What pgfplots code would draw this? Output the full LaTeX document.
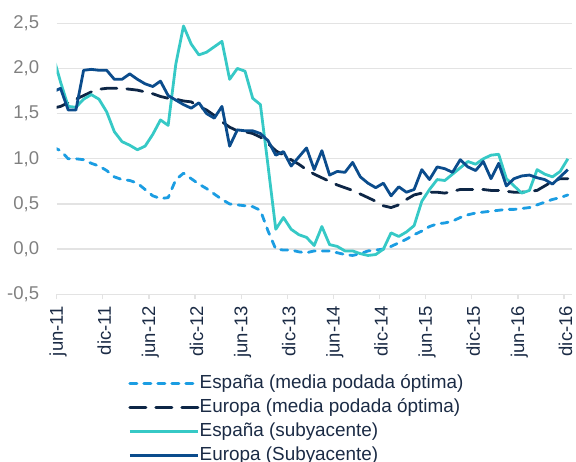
\documentclass[border=0pt]{standalone}
\usepackage{fontspec}
\setmainfont{Liberation Sans}
\usepackage{pgfplots}
\usepackage{pgfplotstable}
\pgfplotsset{compat=1.18}
\definecolor{cEsM}{HTML}{1B9DE2}
\definecolor{cEuM}{HTML}{0D2646}
\definecolor{cEsS}{HTML}{36C9C6}
\definecolor{cEuS}{HTML}{0B4C8C}
\definecolor{cGrid}{HTML}{E3E3E3}
\definecolor{cYLab}{HTML}{808080}
\definecolor{cXLab}{HTML}{1B2B45}

% x = month index (0 = jun-11), points at mid-month
\pgfplotstableread{
x     esm    eum   ess    eus
-0.5  1.13   1.56  2.15   1.74
0.5   1.09   1.58  1.85   1.78
1.5   1.00   1.62  1.58   1.54
2.5   1.00   1.66  1.57   1.54
3.5   0.99   1.70  1.66   1.98
4.5   0.95   1.74  1.71   1.99
5.5   0.92   1.77  1.66   1.98
6.5   0.87   1.78  1.52   1.98
7.5   0.80   1.78  1.30   1.88
8.5   0.77   1.78  1.19   1.88
9.5   0.76   1.77  1.15   1.94
10.5  0.73   1.76  1.10   1.88
11.5  0.66   1.74  1.14   1.83
12.5  0.59   1.72  1.27   1.80
13.5  0.56   1.69  1.43   1.86
14.5  0.57   1.67  1.37   1.70
15.5  0.77   1.66  2.05   1.65
16.5  0.84   1.64  2.47   1.60
17.5  0.78   1.63  2.27   1.56
18.5  0.72   1.58  2.15   1.62
19.5  0.67   1.54  2.18   1.50
20.5  0.61   1.48  2.24   1.45
21.5  0.55   1.41  2.30   1.58
22.5  0.50   1.35  1.88   1.14
23.5  0.49   1.31  2.00   1.32
24.5  0.48   1.30  1.97   1.31
25.5  0.47   1.28  1.67   1.31
26.5  0.43   1.24  1.60   1.28
27.5  0.20   1.17  0.92   1.20
28.5  0.00   1.09  0.22   1.04
29.5  -0.01  1.04  0.35   1.08
30.5  -0.01  0.99  0.22   0.92
31.5  -0.03  0.94  0.16   1.02
32.5  -0.04  0.88  0.13   1.12
33.5  -0.02  0.83  0.04   0.88
34.5  -0.02  0.79  0.25   1.09
35.5  -0.02  0.75  0.05   0.82
36.5  -0.04  0.71  0.03   0.86
37.5  -0.06  0.68  -0.02  0.85
38.5  -0.07  0.65  -0.02  0.96
39.5  -0.05  0.61  -0.05  0.80
40.5  -0.02  0.57  -0.07  0.73
41.5  -0.01  0.53  -0.06  0.68
42.5  0.00   0.48  0.00   0.73
43.5  0.03   0.46  0.18   0.59
44.5  0.07   0.49  0.14   0.69
45.5  0.11   0.55  0.19   0.63
46.5  0.16   0.60  0.26   0.66
47.5  0.20   0.62  0.53   0.88
48.5  0.25   0.63  0.66   0.77
49.5  0.28   0.63  0.77   0.91
50.5  0.29   0.62  0.76   0.89
51.5  0.31   0.64  0.83   0.85
52.5  0.35   0.66  0.90   0.99
53.5  0.38   0.66  0.97   0.91
54.5  0.40   0.66  0.94   0.87
55.5  0.41   0.66  1.00   0.97
56.5  0.42   0.65  1.04   0.78
57.5  0.43   0.65  1.05   0.95
58.5  0.44   0.64  0.78   0.70
59.5  0.44   0.63  0.70   0.78
60.5  0.45   0.63  0.62   0.81
61.5  0.46   0.64  0.65   0.82
62.5  0.49   0.65  0.88   0.79
63.5  0.52   0.70  0.83   0.77
64.5  0.55   0.75  0.80   0.72
65.5  0.57   0.78  0.86   0.80
66.5  0.60   0.78  1.00   0.88
}\datatab

\begin{document}
\begin{tikzpicture}
\path[use as bounding box] (0,0) rectangle (576pt,462pt);
\begin{axis}[
  at={(56.7pt,167.7pt)}, anchor=south west,
  scale only axis, width=515pt, height=271pt,
  xmin=0, xmax=67, ymin=-0.5, ymax=2.5,
  axis line style={draw=none},
  ymajorgrids,
  grid style={draw=cGrid, line width=1.3pt},
  ytick={-0.5,0,0.5,1,1.5,2,2.5},
  xtick={0,6,...,66},
  xticklabels={jun-11,dic-11,jun-12,dic-12,jun-13,dic-13,jun-14,dic-14,jun-15,dic-15,jun-16,dic-16},
  tick align=outside,
  major tick length=5pt,
  xtick pos=left,
  xtick style={draw=cGrid, line width=1.3pt},
  ytick style={draw=none},
  /pgf/number format/assume math mode=true,
  /pgf/number format/use comma,
  /pgf/number format/fixed,
  /pgf/number format/fixed zerofill,
  /pgf/number format/precision=1,
  yticklabel style={font=\fontsize{18.5}{22}\selectfont, text=cYLab, anchor=east, inner sep=0pt, xshift=-12.4pt},
  xticklabel style={font=\fontsize{18.5}{22}\selectfont, text=cXLab, xshift=1.5pt, yshift=-6.5pt, rotate=90, anchor=east, inner sep=0pt},
  legend style={at={(axis description cs:0.139,-0.296)}, anchor=north west, draw=none, fill=none, inner sep=0pt,
    font=\fontsize{18.9}{22}\selectfont, text=cXLab, row sep=6.5pt,
    nodes={inner sep=0pt, text height=13.5pt, text depth=4pt},
    /tikz/every even column/.append style={column sep=9.4pt}},
  legend cell align=left,
  legend image code/.code={\draw[#1] (0pt,0pt) -- (68.4pt,0pt);},
  every axis plot/.append style={line width=2.8pt, line join=round},
]
\addplot[cEsM, line cap=round, dash pattern=on 7pt off 7pt] table[x=x, y=esm] {\datatab};
\addlegendentry{España (media podada óptima)}
\addplot[cEuM, line cap=round, dash pattern=on 16pt off 10pt] table[x=x, y=eum] {\datatab};
\addlegendentry{Europa (media podada óptima)}
\addplot[cEsS] table[x=x, y=ess] {\datatab};
\addlegendentry{España (subyacente)}
\addplot[cEuS] table[x=x, y=eus] {\datatab};
\addlegendentry{Europa (Subyacente)}
\end{axis}
\end{tikzpicture}
\end{document}
